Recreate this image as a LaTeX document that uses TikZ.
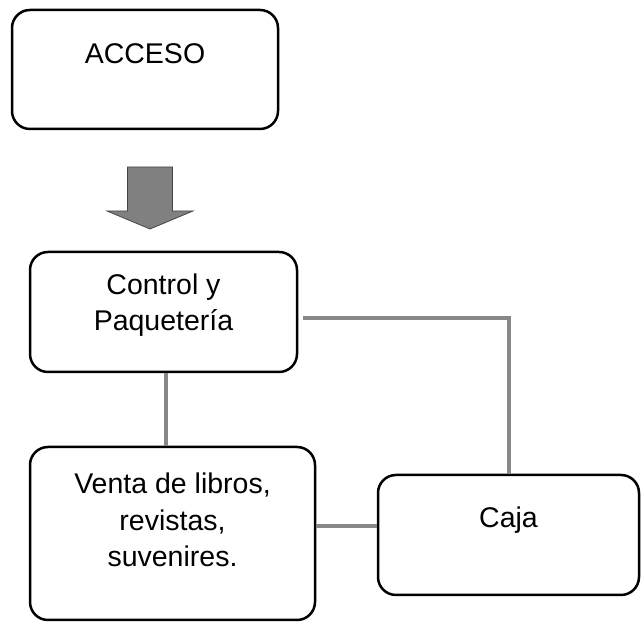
\documentclass[tikz,border=0pt]{standalone}
\usepackage{fontspec}
\setmainfont{Liberation Sans}
\usepackage{tikz}
\usetikzlibrary{positioning, arrows.meta}
\definecolor{LineGray}{RGB}{136, 136, 136}
\definecolor{ArrowGray}{RGB}{128, 128, 128}
\definecolor{ArrowEdge}{RGB}{70, 70, 70}

\begin{document}
\begin{tikzpicture}[
        x=1pt, y=1pt,
        box/.style={
          rectangle,
          draw=black,
          line width=2.5pt,
          rounded corners=18pt,
          fill=white,
          inner sep=0pt
        },
        lbl/.style={
          anchor=base,
          inner sep=0pt,
          align=center,
          font=\fontsize{28.5}{36.5}\selectfont
        },
        link/.style={
          draw=LineGray,
          line width=4pt
        }
      ]
        \useasboundingbox (0,0) rectangle (641,623);

        \node (acceso)  at (145, 553.5)  [box, minimum width=266pt, minimum height=119pt] {};
        \node (control) at (163.5, 311)  [box, minimum width=267pt, minimum height=120pt] {};
        \node (venta)   at (172.5, 89.5) [box, minimum width=285pt, minimum height=173pt] {};
        \node (caja)    at (508.5, 88)   [box, minimum width=261pt, minimum height=120pt] {};

        \node (accesotxt)  at ([yshift=-55pt]acceso.north)   [lbl] {ACCESO};
        \node (controltxt) at ([yshift=-80pt]control.north)  [lbl] {Control y\\Paquetería};
        \node (ventatxt)   at ([yshift=-121pt]venta.north)   [lbl] {Venta de libros,\\revistas,\\suvenires.};
        \node (cajatxt)    at ([yshift=-54pt]caja.north)     [lbl] {Caja};

        \coordinate (flecha) at (150, 456);
        \draw[fill=ArrowGray, draw=ArrowEdge, line width=0.8pt]
          ([xshift=-22.5pt]flecha) -- ([xshift=22.5pt]flecha)
          -- ++(0,-44) -- ++(20.5,0) -- ([yshift=-62pt]flecha)
          -- ([xshift=-43pt, yshift=-44pt]flecha) -- ++(20.5,0) -- cycle;

        \draw[link] ([xshift=5pt, yshift=-6pt]control.east) -| (caja.north);
        \draw[link] ([xshift=2.5pt]control.south) -- ([xshift=2.5pt]control.south |- venta.north);
        \draw[link] ([yshift=7pt]venta.east) -- ([yshift=7pt]venta.east -| caja.west);
      \end{tikzpicture}
\end{document}
